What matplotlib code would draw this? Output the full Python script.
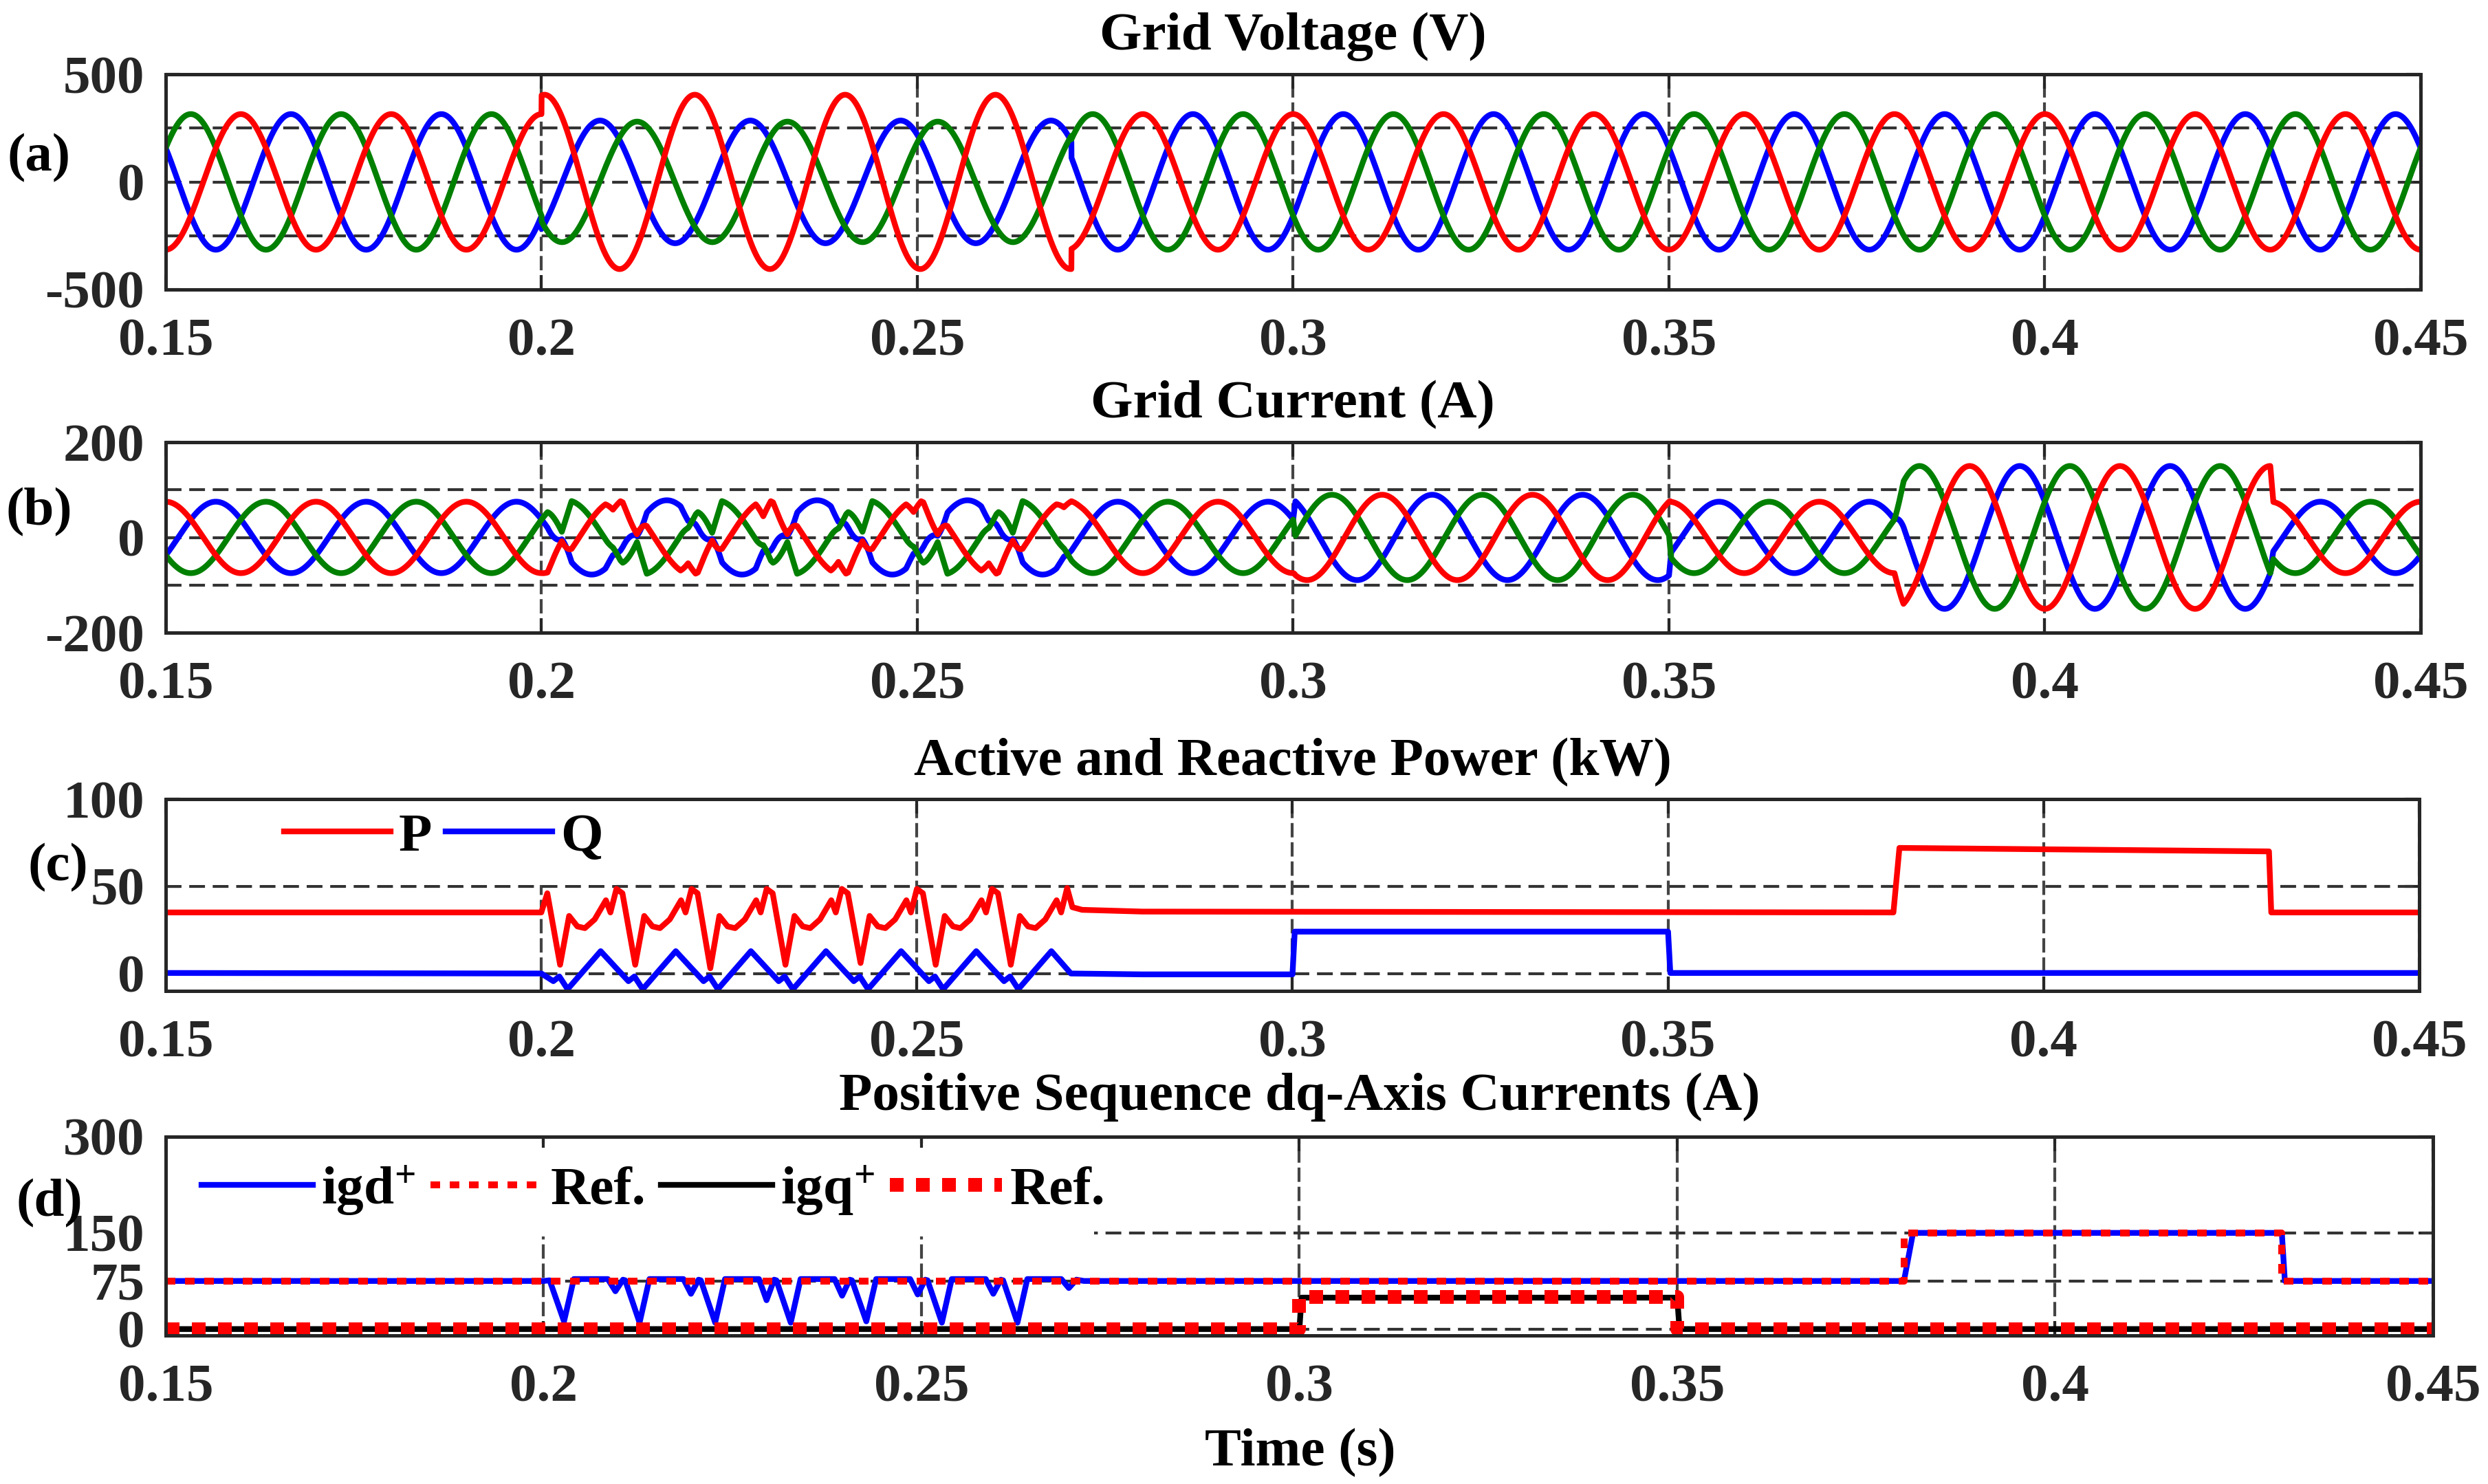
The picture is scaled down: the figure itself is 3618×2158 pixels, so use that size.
import numpy as np
import matplotlib.pyplot as plt
from matplotlib.patches import Rectangle

plt.rcParams['font.family'] = 'Liberation Serif'
plt.rcParams['mathtext.fontset'] = 'custom'
plt.rcParams['mathtext.rm'] = 'Liberation Serif:bold'
plt.rcParams['mathtext.it'] = 'Liberation Serif:bold'
plt.rcParams['mathtext.bf'] = 'Liberation Serif:bold'

W, H, DPI = 3618, 2158, 300
FS = 19
DARK = '#262626'
RED, BLUE, GREEN = '#FF0000', '#0000FF', '#008000'

f_grid = 50.0
t_ticks = [0.15, 0.2, 0.25, 0.3, 0.35, 0.4, 0.45]
t_labels = ['0.15', '0.2', '0.25', '0.3', '0.35', '0.4', '0.45']

# (a) grid voltage: segments, peak value (V) and phase lag (deg) for each phase
v_seg_t = [0.15, 0.20, 0.2705, 0.45]
va_peak = [315, 405, 315]
vb_peak = [315, 285, 315]
vc_peak = [315, 280, 315]
va_lag = [0, 7, 0]
vb_lag = [0, 20, 0]
vc_lag = [0, -11, 0]

# start of each 100 Hz ripple cycle during the unbalanced sag
fault_cycle_t = [0.20, 0.21, 0.22, 0.23, 0.24, 0.25, 0.26]

# (d) igd+ inside one ripple cycle (offsets in s) and per-cycle dip minima
igd_cyc_off = [0.0008, 0.0027, 0.0040, 0.0085, 0.0095, 0.0105]
igd_deep_min = [12, 10, 10, 10, 12, 10, 10]
igd_small_min = [59, 55, 45, 52, 54, 55, 64]
igd_tail_t = [0.2715, 0.38, 0.3812, 0.43, 0.4304, 0.45]
igd_tail_v = [75, 75, 150, 150, 75, 75]
igq_t = [0.15, 0.30, 0.3003, 0.35, 0.3503, 0.45]
igq_v = [0, 0, 49, 49, 0, 0]
igd_ref_t = [0.15, 0.38, 0.38, 0.43, 0.43, 0.45]
igd_ref_v = [75, 75, 150, 150, 75, 75]
igq_ref_t = [0.15, 0.30, 0.30, 0.35, 0.35, 0.45]
igq_ref_v = [0, 0, 50, 50, 0, 0]

# (c) active power inside one ripple cycle
p_cyc_off = [0.0, 0.0008, 0.0025, 0.0037, 0.0048, 0.0058, 0.0071, 0.0086, 0.0092]
p_cyc_shape = [46, 33, 27, 26, 31, 42, 35]
p_cyc_start = [35, 48.5, 48.5, 48.5, 48.5, 48.5, 48.5]
p_cyc_min = [5, 5, 3, 5, 6, 5, 5]
p_tail_t = [0.2700, 0.2707, 0.2720, 0.2800, 0.3800, 0.3808, 0.4300, 0.4303, 0.45]
p_tail_v = [49, 38, 36.5, 35.5, 35, 72, 70, 35, 35]

# (c) reactive power inside one ripple cycle
q_cyc_off = [0.0, 0.0016, 0.0024, 0.0035, 0.0079]
q_cyc_shape = [-4.4, -1.7, -9, 12.8]
q_cyc_start = [0, 3, 3, 3, 3, 3, 3]
q_tail_t = [0.2705, 0.28, 0.30, 0.3003, 0.35, 0.3503, 0.45]
q_tail_v = [0, -0.5, -0.5, 24, 24, 0.3, 0.3]

# ---- assemble keypoint series
igd_t, igd_v = [0.15, 0.20], [75, 75]
for t0, dmin, smin in zip(fault_cycle_t, igd_deep_min, igd_small_min):
    igd_t += [t0 + o for o in igd_cyc_off]
    igd_v += [76, dmin, 78, 78, smin, 77]
igd_t += igd_tail_t
igd_v += igd_tail_v

p_t, p_v = [0.15], [35]
for t0, ps, pm in zip(fault_cycle_t, p_cyc_start, p_cyc_min):
    p_t += [t0 + o for o in p_cyc_off]
    p_v += [ps, p_cyc_shape[0], pm] + p_cyc_shape[1:]
p_t += p_tail_t
p_v += p_tail_v

q_t, q_v = [0.15], [0.3]
for t0, qs in zip(fault_cycle_t, q_cyc_start):
    q_t += [t0 + o for o in q_cyc_off]
    q_v += [qs] + q_cyc_shape
q_t += q_tail_t
q_v += q_tail_v

# ---- three-phase waveforms from the read amplitudes / phases
t = np.arange(0.15, 0.45 + 5e-6, 1e-5)
w = 2 * np.pi * f_grid
seg = np.searchsorted(v_seg_t[1:-1], t, side='right')


def phase_voltage(peaks, lags, base_deg):
    amp = np.asarray(peaks, float)[seg]
    lag = np.radians(np.asarray(lags, float))[seg]
    return amp * np.cos(w * t + np.radians(base_deg) - lag)


va = phase_voltage(va_peak, va_lag, 0)
vb = phase_voltage(vb_peak, vb_lag, -120)
vc = phase_voltage(vc_peak, vc_lag, 120)

# grid currents follow the dq currents of panel (d)
igd_s = np.interp(t, igd_t, igd_v)
igq_s = np.interp(t, igq_t, igq_v)
i_mag = np.hypot(igd_s, igq_s)
i_ang = np.arctan2(igq_s, igd_s)
ia = -i_mag * np.cos(w * t - i_ang)
ib = -i_mag * np.cos(w * t - 2 * np.pi / 3 - i_ang)
ic = -i_mag * np.cos(w * t + 2 * np.pi / 3 - i_ang)

# ---- figure
fig = plt.figure(figsize=(W / DPI, H / DPI), dpi=DPI)


def px_axes(left, right, top, bottom):
    return fig.add_axes([left / W, 1 - bottom / H, (right - left) / W, (bottom - top) / H])


def style(ax, ylim, yticks, hlines):
    ax.set_xlim(0.15, 0.45)
    ax.set_ylim(*ylim)
    ax.set_xticks(t_ticks)
    ax.set_xticklabels(t_labels)
    ax.set_yticks(yticks)
    ax.set_yticklabels([str(v) for v in yticks])
    ax.tick_params(axis='both', direction='in', length=5, width=1, colors=DARK,
                   labelsize=FS, top=True, right=True)
    ax.tick_params(axis='x', pad=10)
    ax.tick_params(axis='y', pad=7.4)
    for lab in ax.get_xticklabels() + ax.get_yticklabels():
        lab.set_fontweight('bold')
    for s in ax.spines.values():
        s.set_color(DARK)
        s.set_linewidth(1.2)
    ax.set_axisbelow(True)
    ax.grid(axis='x', color='#444444', lw=1.0, ls=(0, (5, 1.7)))
    for y in hlines:
        ax.axhline(y, color='#333333', lw=1.0, ls=(0, (5.5, 2.7)), zorder=1)


def title(text, y_base, x_center=1880):
    fig.text(x_center / W, 1 - y_base / H, text, ha='center', va='baseline',
             fontsize=FS, fontweight='bold')


LW = 2.0

# (a)
ax_a = px_axes(241, 3520, 108, 421)
style(ax_a, (-500, 500), [-500, 0, 500], [-250, 0, 250])
ax_a.plot(t, vb, color=BLUE, lw=LW)
ax_a.plot(t, vc, color=GREEN, lw=LW)
ax_a.plot(t, va, color=RED, lw=LW)
title('Grid Voltage (V)', 72)

# (b)
ax_b = px_axes(241, 3520, 643, 920)
style(ax_b, (-200, 200), [-200, 0, 200], [-100, 0, 100])
ax_b.plot(t, ib, color=BLUE, lw=LW)
ax_b.plot(t, ic, color=GREEN, lw=LW)
ax_b.plot(t, ia, color=RED, lw=LW)
title('Grid Current (A)', 607)

# (c)
ax_c = px_axes(241, 3518, 1162, 1441)
style(ax_c, (-10, 100), [0, 50, 100], [0, 50])
ax_c.add_patch(Rectangle((0.15, 50.8), 0.06, 49.2, facecolor='white',
                         edgecolor='none', zorder=1.5))
ax_c.plot(p_t, p_v, color=RED, lw=LW, label='P')
ax_c.plot(q_t, q_v, color=BLUE, lw=LW, label='Q')
ax_c.legend(loc='center left', bbox_to_anchor=(0.0525, 0.80), ncol=2, frameon=False,
            prop={'size': FS, 'weight': 'bold'}, handlelength=1.96, handletextpad=0.15,
            columnspacing=0.25, borderpad=0, borderaxespad=0)
title('Active and Reactive Power (kW)', 1127)

# (d)
ax_d = px_axes(241, 3538, 1653, 1942)
style(ax_d, (-10, 300), [0, 75, 150, 300], [0, 75, 150])
ax_d.add_patch(Rectangle((0.15, 145), 0.1228, 138, facecolor='white',
                         edgecolor='none', zorder=1.5))
ax_d.plot(igd_t, igd_v, color=BLUE, lw=LW, label='igd$^{+}$')
ax_d.plot(igd_ref_t, igd_ref_v, color=RED, lw=2.4, ls=(0, (1.4, 1.4)), label='Ref.')
ax_d.plot(igq_t, igq_v, color='black', lw=LW, label='igq$^{+}$')
ax_d.plot(igq_ref_t, igq_ref_v, color=RED, lw=4.8, ls=(0, (1.0, 0.9)), label='Ref.')
ax_d.legend(loc='center left', bbox_to_anchor=(0.0158, 0.73), ncol=4, frameon=False,
            prop={'size': FS, 'weight': 'bold'}, handlelength=2.05, handletextpad=0.15,
            columnspacing=0.28, borderpad=0, borderaxespad=0)
title('Positive Sequence dq-Axis Currents (A)', 1614, x_center=1890)

fig.text(1891 / W, 1 - 2131 / H, 'Time (s)', ha='center', va='baseline',
         fontsize=FS, fontweight='bold')

# panel tags
for lab, (x, y) in zip(['(a)', '(b)', '(c)', '(d)'],
                       [(57, 230), (57, 745), (84, 1262), (72, 1750)]):
    fig.text(x / W, 1 - y / H, lab, ha='center', va='center', fontsize=FS,
             fontweight='bold')

fig.savefig('out.png', dpi=DPI)
plt.close(fig)
